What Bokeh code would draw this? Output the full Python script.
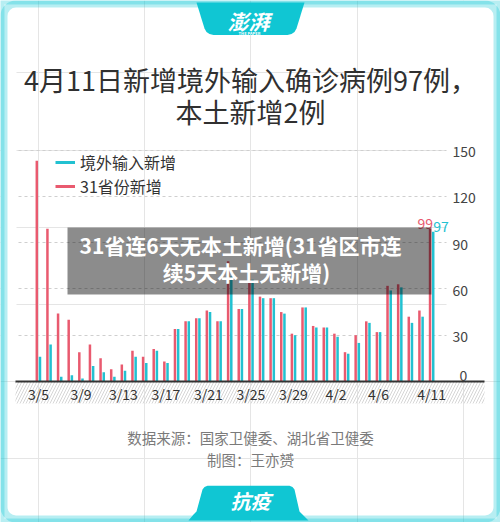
from bokeh.plotting import figure
from bokeh.models import (Range1d, FixedTicker, BoxAnnotation, PolyAnnotation, Label,
                          Legend, LegendItem, ColumnDataSource, LinearAxis, Grid)
from bokeh.transform import dodge
from bokeh.core.properties import value
from bokeh.embed import file_html
from bokeh.resources import INLINE

# ---------------- data ----------------
dates = ["3/5", "3/6", "3/7", "3/8", "3/9", "3/10", "3/11", "3/12", "3/13", "3/14",
         "3/15", "3/16", "3/17", "3/18", "3/19", "3/20", "3/21", "3/22", "3/23", "3/24",
         "3/25", "3/26", "3/27", "3/28", "3/29", "3/30", "3/31", "4/1", "4/2", "4/3",
         "4/4", "4/5", "4/6", "4/7", "4/8", "4/9", "4/10", "4/11"]
overseas = [16, 24, 3, 4, 2, 10, 6, 3, 7, 16, 12, 20, 12, 34, 39, 41, 45, 39, 68, 47,
            66, 54, 54, 44, 30, 48, 35, 35, 29, 18, 25, 38, 32, 59, 61, 38, 42, 97]
provinces = [143, 99, 44, 40, 19, 24, 15, 8, 11, 20, 16, 21, 13, 34, 39, 41, 46, 39, 78, 47,
             66, 55, 54, 45, 31, 48, 36, 35, 31, 19, 30, 39, 32, 62, 63, 42, 46, 99]
tick_dates = ["3/5", "3/9", "3/13", "3/17", "3/21", "3/25", "3/29", "4/2", "4/6", "4/11"]
y_ticks = [0, 30, 60, 90, 120, 150]
series_names = ["境外输入新增", "31省份新增"]
title_lines = ["4月11日新增境外输入确诊病例97例，", "本土新增2例"]
banner_lines = ["31省连6天无本土新增(31省区市连", "续5天本土无新增)"]
footer_lines = ["数据来源：国家卫健委、湖北省卫健委", "制图：王亦赟"]

# ---------------- layout / style ----------------
W, H = 500, 522
FONT = "Noto Sans CJK SC"
FRAME_CYAN = "#10c6d3"
RED = "#e95a6f"
BLUE = "#22c1d1"

PX_PER_DAY = 10.628
DAY0_PX = 37.9
X0 = -DAY0_PX / PX_PER_DAY
X1 = X0 + W / PX_PER_DAY
PX_PER_UNIT = 1.5431
BASE_PX = 381


def y_range_for(base_px):  # value 0 drawn at page y = base_px
    return Range1d(-(H - base_px) / PX_PER_UNIT, base_px / PX_PER_UNIT)


def xd(px):  # page x pixel -> day coordinate
    return X0 + px / PX_PER_DAY


def SX(x):  # page pixel -> screen units of the frame (frame == canvas)
    return x


def SY(y):
    return H - y


p = figure(width=W, height=H, output_backend="svg", toolbar_location=None, title=None,
           x_range=Range1d(X0, X1), y_range=y_range_for(BASE_PX),
           x_axis_location=None, y_axis_location=None, min_border=0)
p.extra_y_ranges = {"labels": y_range_for(BASE_PX + 1.5), "zero": y_range_for(BASE_PX - 6)}
p.background_fill_color = "white"
p.border_fill_color = "white"
p.outline_line_color = None

SU = dict(left_units="screen", right_units="screen", top_units="screen", bottom_units="screen")

# grid (dashed) with masks so it spans only the chart area
p.add_layout(Grid(dimension=1, ticker=FixedTicker(ticks=[t for t in y_ticks if t > 0]),
                  grid_line_color="#cfcfcf", grid_line_dash="3 3", grid_line_width=1))
p.add_layout(BoxAnnotation(left=SX(0), right=SX(16), top=SY(0), bottom=SY(379), **SU,
                           fill_color="white", fill_alpha=1, line_color=None,
                           level="underlay", editable=False))
p.add_layout(BoxAnnotation(left=SX(446), right=SX(500), top=SY(0), bottom=SY(379), **SU,
                           fill_color="white", fill_alpha=1, line_color=None,
                           level="underlay", editable=False))
# hatched band below the axis
p.add_layout(BoxAnnotation(left=SX(15), right=SX(484), top=SY(381), bottom=SY(403), **SU,
                           fill_color=None, line_color=None, hatch_pattern="/",
                           hatch_color="#d6d6d6", hatch_scale=6, hatch_weight=1,
                           level="underlay", editable=False))

# bars
src = ColumnDataSource(dict(idx=list(range(len(dates))), date=dates,
                            overseas=overseas, provinces=provinces))
p.vbar(x=dodge("idx", -0.15), top="provinces", bottom=0, width=0.235, source=src,
       fill_color=RED, line_color=None)
p.vbar(x=dodge("idx", 0.15), top="overseas", bottom=0, width=0.235, source=src,
       fill_color=BLUE, line_color=None)

last = len(dates) - 1
lab_src = ColumnDataSource(dict(x=[last], p=[provinces[last]], o=[overseas[last]],
                                pt=[str(provinces[last])], ot=[str(overseas[last])]))
p.text(x=dodge("x", -0.15), y="p", text="pt", source=lab_src, text_align="right",
       text_baseline="bottom", x_offset=3, y_offset=0, text_color=RED,
       text_font=value(FONT), text_font_size="14px")
p.text(x=dodge("x", 0.15), y="o", text="ot", source=lab_src, text_align="left",
       text_baseline="bottom", x_offset=0, y_offset=0, text_color=BLUE,
       text_font=value(FONT), text_font_size="14px")

# axes (fixed inside the canvas)
AX_COMMON = dict(axis_line_color=None, major_tick_line_color=None,
                 minor_tick_line_color=None, major_tick_in=0, major_tick_out=0,
                 minor_tick_in=0, minor_tick_out=0, major_label_text_font=FONT,
                 major_label_text_font_size="14px", major_label_text_color="#444444")
yax = LinearAxis(fixed_location=xd(446), y_range_name="labels",
                 ticker=FixedTicker(ticks=[t for t in y_ticks if t > 0]),
                 major_label_standoff=6, **AX_COMMON)
p.add_layout(yax, "right")
yax0 = LinearAxis(fixed_location=xd(446), y_range_name="zero",
                  ticker=FixedTicker(ticks=[t for t in y_ticks if t == 0]),
                  major_label_standoff=13, **AX_COMMON)
p.add_layout(yax0, "right")

x_ticks = [dates.index(d) for d in tick_dates]
xax = LinearAxis(fixed_location=0, ticker=FixedTicker(ticks=x_ticks),
                 major_label_overrides={i: dates[i] for i in x_ticks},
                 bounds=(xd(15), xd(484)), axis_line_color="#333333", axis_line_width=2,
                 major_tick_line_color=None, minor_tick_line_color=None,
                 major_tick_in=0, major_tick_out=0, minor_tick_in=0, minor_tick_out=0,
                 major_label_standoff=2, major_label_text_font=FONT,
                 major_label_text_font_size="14px", major_label_text_color="#333333")
p.add_layout(xax, "below")

# legend with line glyphs (hidden line renderers only provide the legend swatches)
r_c = p.line(x="idx", y="overseas", source=src, line_color=BLUE, line_width=3, visible=False)
r_r = p.line(x="idx", y="provinces", source=src, line_color=RED, line_width=3, visible=False)
legend = Legend(items=[LegendItem(label=series_names[0], renderers=[r_c]),
                       LegendItem(label=series_names[1], renderers=[r_r])],
                location=(SX(55), SY(197.5)), background_fill_alpha=0, border_line_color=None,
                padding=0, margin=0, spacing=0, label_height=20, glyph_height=20,
                glyph_width=20, label_standoff=5, label_text_font=FONT,
                label_text_font_size="16px", label_text_color="#333333")
p.add_layout(legend)

# banner overlay
p.add_layout(BoxAnnotation(left=SX(67), right=SX(431), top=SY(227), bottom=SY(294), **SU,
                           fill_color="black", fill_alpha=0.45, line_color=None, editable=False))
for txt, cx, cy in [(banner_lines[0], 240, 244), (banner_lines[1], 246, 271)]:
    p.add_layout(Label(x=SX(cx), y=SY(cy), x_units="screen", y_units="screen", text=txt,
                       text_align="center", text_baseline="middle", text_font=FONT,
                       text_font_style="bold", text_font_size="21px", text_color="white"))

# title
for txt, cx, cy in [(title_lines[0], 250, 79), (title_lines[1], 250, 111)]:
    p.add_layout(Label(x=SX(cx), y=SY(cy), x_units="screen", y_units="screen", text=txt,
                       text_align="center", text_baseline="middle", text_font=FONT,
                       text_font_size="27px", text_color="#303030"))

# footer
for txt, cx, cy in [(footer_lines[0], 250, 437), (footer_lines[1], 250, 459)]:
    p.add_layout(Label(x=SX(cx), y=SY(cy), x_units="screen", y_units="screen", text=txt,
                       text_align="center", text_baseline="middle", text_font=FONT,
                       text_font_size="14.5px", text_color="#7a7a7a"))

# outer cyan frame (square outside, rounded inside)
p.add_layout(BoxAnnotation(left=SX(0), right=SX(500), top=SY(0), bottom=SY(522), **SU,
                           fill_color=None, line_color=FRAME_CYAN, line_width=8,
                           editable=False))
p.add_layout(BoxAnnotation(left=SX(3.5), right=SX(496.5), top=SY(3.5), bottom=SY(518.5), **SU,
                           fill_color=None, line_color=FRAME_CYAN, line_width=7,
                           border_radius=12, editable=False))

# top tab
top_tab = [(196, 2), (204, 28), (206, 31.5), (209, 33.5), (213, 34.5), (287, 34.5),
           (291, 33.5), (294, 31.5), (296, 28), (304, 2)]
p.add_layout(PolyAnnotation(xs=[SX(a) for a, b in top_tab], ys=[SY(b) for a, b in top_tab],
                            xs_units="screen", ys_units="screen", fill_color=FRAME_CYAN,
                            fill_alpha=1, line_color=None))
p.add_layout(Label(x=SX(248), y=SY(20), x_units="screen", y_units="screen", text="澎湃",
                   text_align="center", text_baseline="middle", text_font=FONT,
                   text_font_style="bold italic", text_font_size="21px", text_color="white"))
p.add_layout(Label(x=SX(249), y=SY(32), x_units="screen", y_units="screen",
                   text="THE PAPER", text_align="center", text_baseline="middle",
                   text_font=FONT, text_font_style="bold", text_font_size="4px",
                   text_color="white"))

# bottom tab
bot_tab = [(188, 520), (193, 514), (196, 511), (202, 489), (204, 486.5), (207, 485.3),
           (289, 485.3), (292, 486.5), (294, 489), (299, 511), (302, 514), (308, 520)]
p.add_layout(PolyAnnotation(xs=[SX(a) for a, b in bot_tab], ys=[SY(b) for a, b in bot_tab],
                            xs_units="screen", ys_units="screen", fill_color=FRAME_CYAN,
                            fill_alpha=1, line_color=None))
p.add_layout(Label(x=SX(250), y=SY(500), x_units="screen", y_units="screen", text="抗疫",
                   text_align="center", text_baseline="middle", text_font=FONT,
                   text_font_style="bold italic", text_font_size="20px", text_color="white"))

open("out.html", "w").write(file_html(p, INLINE))
